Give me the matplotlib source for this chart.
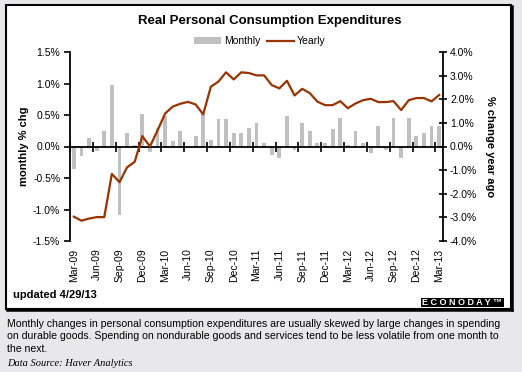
import numpy as np
import matplotlib.pyplot as plt
from matplotlib.patches import Rectangle, Patch
from matplotlib.lines import Line2D
from matplotlib.ticker import FuncFormatter
import matplotlib.transforms as mtransforms

plt.rcParams['font.family'] = ['Liberation Sans', 'DejaVu Sans']

# months Mar-09 .. Mar-13
months = ['Mar-09', 'Apr-09', 'May-09', 'Jun-09', 'Jul-09', 'Aug-09', 'Sep-09', 'Oct-09', 'Nov-09',
          'Dec-09', 'Jan-10', 'Feb-10', 'Mar-10', 'Apr-10', 'May-10', 'Jun-10', 'Jul-10', 'Aug-10',
          'Sep-10', 'Oct-10', 'Nov-10', 'Dec-10', 'Jan-11', 'Feb-11', 'Mar-11', 'Apr-11', 'May-11',
          'Jun-11', 'Jul-11', 'Aug-11', 'Sep-11', 'Oct-11', 'Nov-11', 'Dec-11', 'Jan-12', 'Feb-12',
          'Mar-12', 'Apr-12', 'May-12', 'Jun-12', 'Jul-12', 'Aug-12', 'Sep-12', 'Oct-12', 'Nov-12',
          'Dec-12', 'Jan-13', 'Feb-13', 'Mar-13']

# monthly % change (left axis)
monthly = [-0.35, -0.15, 0.13, -0.07, 0.25, 0.97, -1.08, 0.21, 0.03, 0.52,
           -0.09, 0.29, 0.49, 0.08, 0.25, 0.0, 0.16, 0.51, 0.10, 0.43,
           0.43, 0.21, 0.21, 0.30, 0.37, 0.06, -0.13, -0.19, 0.49, -0.06,
           0.38, 0.24, 0.05, 0.05, 0.27, 0.45, 0.03, 0.24, 0.05, -0.11,
           0.33, -0.05, 0.46, -0.19, 0.46, 0.17, 0.21, 0.33, 0.32]

# % change year ago (right axis)
yearly = [-2.97, -3.14, -3.05, -2.99, -2.99, -1.16, -1.51, -0.88, -0.65, 0.44,
          0.0, 0.68, 1.40, 1.69, 1.81, 1.89, 1.78, 1.36, 2.53, 2.75,
          3.14, 2.84, 3.14, 3.11, 3.01, 3.01, 2.60, 2.46, 2.78, 2.16,
          2.44, 2.26, 1.90, 1.75, 1.75, 1.92, 1.62, 1.82, 1.96, 2.02,
          1.88, 1.88, 1.92, 1.54, 1.96, 2.05, 2.05, 1.91, 2.18]

x = np.arange(len(months))
bg = '#e8e8ea'
line_color = '#993300'
bar_color = '#c0c0c0'

fig = plt.figure(figsize=(5.22, 3.72), dpi=100, facecolor=bg)
W, H = 522.0, 372.0

# white chart panel with border
panel = Rectangle((6 / W, 1 - 309 / H), (511 - 6) / W, (309 - 5) / H, transform=fig.transFigure,
                  facecolor='white', edgecolor='black', linewidth=1.5, zorder=-2)
fig.patches.append(panel)
fig.add_artist(Line2D([512 / W, 512 / W], [1 - 310 / H, 1 - 6 / H], color='black', lw=1.8,
                      transform=fig.transFigure, zorder=-1))
fig.add_artist(Line2D([7 / W, 512 / W], [1 - 310 / H, 1 - 310 / H], color='black', lw=1.8,
                      transform=fig.transFigure, zorder=-1))

ax = fig.add_axes([70 / W, 1 - 241 / H, (443 - 70) / W, (241 - 52) / H])
ax.set_facecolor('none')
ax.bar(x, monthly, width=0.5, color=bar_color, zorder=2)
ax.set_xlim(-0.5, len(months) - 0.5)
ax.set_ylim(-1.5, 1.5)
ax.set_yticks(np.arange(-1.5, 1.51, 0.5))
ax.yaxis.set_major_formatter(FuncFormatter(lambda v, p: '%.1f%%' % v))
ax.tick_params(axis='y', direction='out', length=4, width=1.2, labelsize=7.5, pad=3)
ax.spines['top'].set_visible(False)
ax.spines['right'].set_visible(False)
ax.spines['left'].set_linewidth(1.3)
ax.spines['bottom'].set_position(('data', 0))
ax.spines['bottom'].set_linewidth(1.3)
ax.set_xticks(np.arange(-0.5, len(months), 3))
ax.set_xticklabels([])
ax.tick_params(axis='x', direction='inout', length=7, width=1.2)
ax.set_ylabel('monthly % chg', fontsize=8, fontweight='bold', labelpad=3)

trans = mtransforms.blended_transform_factory(ax.transData, ax.transAxes)
for i in range(0, len(months), 3):
    ax.text(x[i], -0.04, months[i], rotation=90, ha='center', va='top', fontsize=7.5,
            transform=trans)

ax2 = ax.twinx()
ax2.plot(x, yearly, color=line_color, lw=1.6, zorder=3)
ax2.set_ylim(-4, 4)
ax2.set_yticks(np.arange(-4, 4.1, 1))
ax2.yaxis.set_major_formatter(FuncFormatter(lambda v, p: '%.1f%%' % v))
ax2.tick_params(axis='y', direction='inout', length=6, width=1.2, labelsize=7.5, pad=2)
for s in ['top', 'bottom', 'left']:
    ax2.spines[s].set_visible(False)
ax2.spines['right'].set_linewidth(1.3)
ax2.set_ylabel('% change year ago', fontsize=8, fontweight='bold', rotation=-90, labelpad=13)

fig.text(270 / W, 1 - 21 / H, 'Real Personal Consumption Expenditures', ha='center', va='center',
         fontsize=9.5, fontweight='bold')

handles = [Patch(facecolor=bar_color, edgecolor='none'), Line2D([], [], color=line_color, lw=1.6)]
fig.legend(handles, ['Monthly', 'Yearly'], loc='center', bbox_to_anchor=(260 / W, 1 - 41 / H),
           ncol=2, frameon=False, fontsize=7.5, handlelength=2.6, handleheight=0.6,
           handletextpad=0.3, columnspacing=0.6)

fig.text(13 / W, 1 - 295 / H, 'updated 4/29/13', ha='left', va='center', fontsize=8,
         fontweight='bold')

fig.patches.append(Rectangle((421 / W, 1 - 307 / H), 83 / W, 9 / H, transform=fig.transFigure,
                             facecolor='black', edgecolor='none'))
fig.text(462 / W, 1 - 302.5 / H, 'E C O N O D A Y \u2122', ha='center', va='center', fontsize=6.5,
         fontweight='bold', color='white')

caption = ('Monthly changes in personal consumption expenditures are usually skewed by large changes in spending\n'
           'on durable goods. Spending on nondurable goods and services tend to be less volatile from one month to\n'
           'the next.')
fig.text(7 / W, 1 - 319 / H, caption, ha='left', va='top', fontsize=7.55, linespacing=1.3)
fig.text(7 / W, 1 - 363 / H, 'Data Source: Haver Analytics', ha='left', va='center', fontsize=7.5,
         style='italic', family=['Liberation Serif', 'DejaVu Serif'])

fig.savefig('out.png', dpi=100, facecolor=bg)
